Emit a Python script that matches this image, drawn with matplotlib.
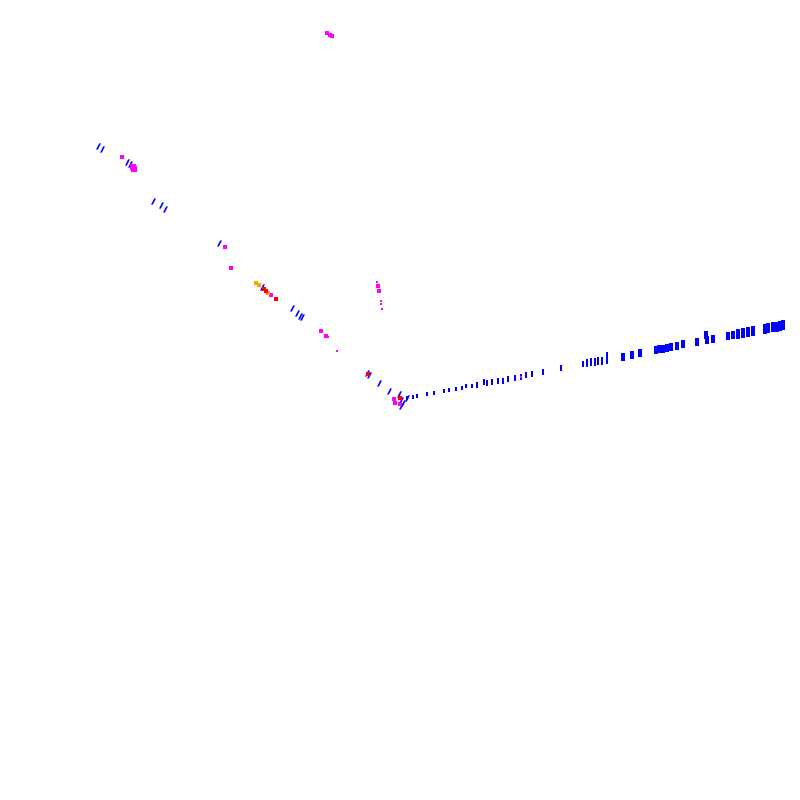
import numpy as np
import matplotlib.pyplot as plt

# hit positions (display units, y grows downward)
right_x = [407, 413, 417, 427, 434, 444, 449, 456, 462, 466, 472, 477, 484, 487, 492,
           498, 503, 508, 515, 521, 526, 532, 543, 561, 583, 587, 591, 595, 598,
           602, 607, 607, 623, 632, 640, 656, 659, 663, 667, 671, 677, 683, 697, 706,
           707, 713, 728, 733, 738, 743, 748, 753, 765, 768, 773, 777, 780, 783]
right_y = [398, 397, 396, 394, 393, 391, 390, 389, 388, 386, 386, 385, 382, 383, 382,
           381, 381, 379, 378, 377, 375, 374, 372, 368, 364, 363, 362, 362, 361,
           361, 356, 360, 357, 355, 353, 350, 349, 349, 348, 347, 346, 344, 342, 335,
           340, 339, 336, 335, 334, 333, 332, 331, 329, 328, 327, 327, 326, 325]

left_blue_x = [98, 102, 127, 130, 153, 161, 165, 219, 262, 292, 297, 300, 302, 367, 369, 379, 389, 399, 401, 403, 401, 407]
left_blue_y = [146, 149, 162, 164, 201, 205, 209, 243, 287, 308, 313, 316, 317, 373, 375, 383, 391, 394, 400, 403, 406, 398]

magenta_x = [122, 133, 134, 225, 231, 271, 321, 326, 328, 337, 394, 400, 395,
             327, 330, 332, 377, 378, 379, 381, 381, 382, 521]
magenta_y = [157, 167, 169, 247, 268, 295, 331, 336, 337, 351, 399, 404, 403,
             33, 35, 36, 282, 286, 291, 301, 304, 309, 377]
magenta_s = [9, 22, 22, 7, 7, 6, 6, 6, 4, 3, 6, 6, 5,
             10, 10, 8, 4, 5, 6, 3, 2, 2, 4]

orange_x = [256, 259, 268]
orange_y = [283, 285, 293]
red_x = [264, 266, 276, 368, 400]
red_y = [289, 291, 299, 374, 398]

fig = plt.figure(figsize=(8, 8), dpi=100)
ax = fig.add_axes([0, 0, 1, 1])

bar = [(-0.4, -1), (0.4, -1), (0.4, 1), (-0.4, 1)]
slash = [(-0.8, -1), (-0.2, -1), (0.8, 1), (0.2, 1)]

rx = np.array(right_x)
rsize = 5 + (rx - 400) * 0.11
ax.scatter(right_x, right_y, s=rsize, marker=bar, c='#0000ff', linewidths=0)
ax.scatter(left_blue_x, left_blue_y, s=20, marker=slash, c='#0000ff', linewidths=0)
ax.scatter(magenta_x, magenta_y, s=magenta_s, marker='s', c='#ff00ff', linewidths=0)
ax.scatter(orange_x, orange_y, s=12, marker='s', c='#ffa500', linewidths=0)
ax.scatter(red_x, red_y, s=8, marker='s', c='#ff0000', linewidths=0)

ax.set_xlim(0, 800)
ax.set_ylim(800, 0)
ax.axis('off')
fig.savefig('out.png', dpi=100)
